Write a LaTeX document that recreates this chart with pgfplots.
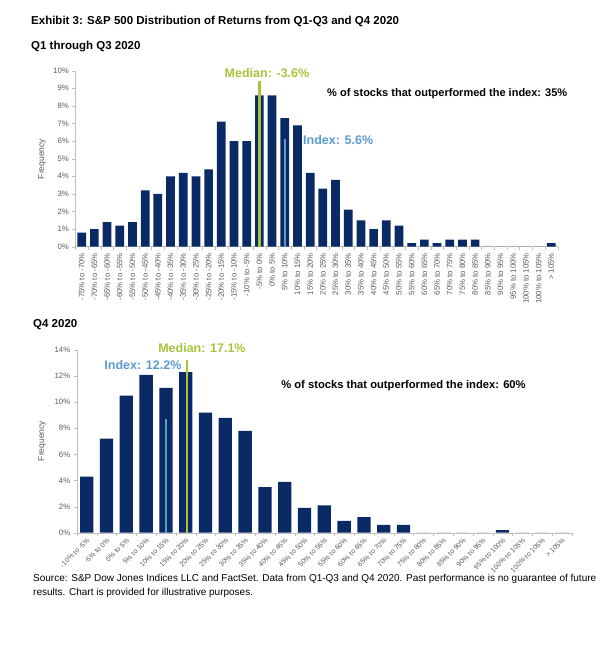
\documentclass[border=0pt]{standalone}
\usepackage{pgfplots}
\pgfplotsset{compat=1.18}
\usepackage{fontspec}
\setmainfont{Liberation Sans}

\definecolor{navy}{HTML}{0A2A66}
\definecolor{medgreen}{HTML}{A8C43C}
\definecolor{idxblue}{HTML}{5A9BD0}
\definecolor{ticktext}{HTML}{595959}

\pgfplotsset{
    histo/.style={
        scale only axis,
        anchor=south west,
        ybar, bar shift=0pt,
        axis x line*=bottom, axis y line*=left,
        axis line style={gray!50},
        ymin=0,
        xtick=data,
        major x tick style={draw=none},
        minor x tick style={gray!50},
        tick align=outside,
        minor tick length=3pt,
        major tick length=3pt,
        y tick style={gray!50},
        tick label style={font=\fontsize{7.8}{8}\selectfont, text=ticktext},
        yticklabel={\pgfmathprintnumber{\tick}\%},
        /pgf/number format/assume math mode=true,
        clip=false,
    },
}

\begin{document}
\begin{tikzpicture}
\path[use as bounding box] (0pt,0pt) rectangle (614pt,649pt);

% headings
\node[anchor=west, inner sep=0pt, font=\bfseries\fontsize{11.5}{13}\selectfont] at (31pt,628pt) {Exhibit 3: S\&P 500 Distribution of Returns from Q1-Q3 and Q4 2020};
\node[anchor=west, inner sep=0pt, font=\bfseries\fontsize{11.5}{13}\selectfont] at (31pt,602pt) {Q1 through Q3 2020};
\node[anchor=west, inner sep=0pt, font=\bfseries\fontsize{11.5}{13}\selectfont] at (33pt,324pt) {Q4 2020};
\node[anchor=west, inner sep=0pt, font=\fontsize{10}{12}\selectfont] at (33pt,70pt) {Source: S\&P Dow Jones Indices LLC and FactSet. Data from Q1-Q3 and Q4 2020. Past performance is no guarantee of future};
\node[anchor=west, inner sep=0pt, font=\fontsize{10}{12}\selectfont] at (33pt,56pt) {results. Chart is provided for illustrative purposes.};

\node[rotate=90, font=\fontsize{8.5}{9}\selectfont, text=ticktext] at (42pt,490pt) {Frequency};
\node[rotate=90, font=\fontsize{8.5}{9}\selectfont, text=ticktext] at (42pt,208pt) {Frequency};

% Q1 through Q3 2020
\begin{axis}[histo,
    at={(75.35pt,402.3pt)},
    width=482.3pt, height=176pt,
    xmin=-0.5, xmax=37.5, ymax=10,
    ytick={0,1,...,10},
    bar width=8.7pt,
    minor xtick={-0.5,0.5,...,37.5},
    xticklabels={-75\% to -70\%,-70\% to -65\%,-65\% to -60\%,-60\% to -55\%,-55\% to -50\%,-50\% to -45\%,-45\% to -40\%,-40\% to -35\%,-35\% to -30\%,-30\% to -25\%,-25\% to -20\%,-20\% to -15\%,-15\% to -10\%,-10\% to -5\%,-5\% to 0\%,0\% to 5\%,5\% to 10\%,10\% to 15\%,15\% to 20\%,20\% to 25\%,25\% to 30\%,30\% to 35\%,35\% to 40\%,40\% to 45\%,45\% to 50\%,50\% to 55\%,55\% to 60\%,60\% to 65\%,65\% to 70\%,70\% to 75\%,75\% to 80\%,80\% to 85\%,85\% to 90\%,90\% to 95\%,95\% to 100\%,100\% to 105\%,100\% to 105\%,> 105\%},
    x tick label style={rotate=90, anchor=east},
]
\addplot[fill=navy, draw=none] coordinates {
    (0,0.8) (1,1.0) (2,1.4) (3,1.2) (4,1.4) (5,3.2) (6,3.0) (7,4.0) (8,4.2) (9,4.0)
    (10,4.4) (11,7.1) (12,6.0) (13,6.0) (14,8.6) (15,8.6) (16,7.3) (17,6.9) (18,4.2) (19,3.3)
    (20,3.8) (21,2.1) (22,1.5) (23,1.0) (24,1.5) (25,1.2) (26,0.2) (27,0.4) (28,0.2) (29,0.4)
    (30,0.4) (31,0.4) (32,0) (33,0) (34,0) (35,0) (36,0) (37,0.2)
};
\addplot[sharp plot, medgreen, line width=2.7pt] coordinates {(14,0) (14,9.43)};
\addplot[sharp plot, idxblue, line width=2pt] coordinates {(16,0) (16,6.1)};
\node[font=\bfseries\fontsize{12.5}{13}\selectfont, text=medgreen] at (axis cs:14.6,9.85) {Median: -3.6\%};
\node[anchor=west, font=\bfseries\fontsize{12.5}{13}\selectfont, text=idxblue, inner sep=0pt] at (axis cs:17.44,6.06) {Index: 5.6\%};
\node[font=\bfseries\fontsize{11}{12}\selectfont] at (axis cs:28.8,8.7) {\% of stocks that outperformed the index: 35\%};
\end{axis}

% Q4 2020
\begin{axis}[histo,
    at={(76.8pt,116.3pt)},
    width=495pt, height=182.7pt,
    xmin=-0.5, xmax=24.5, ymax=14,
    ytick={0,2,...,14},
    bar width=13.3pt,
    minor xtick={-0.5,0.5,...,24.5},
    xticklabels={-10\% to -5\%,-5\% to 0\%,0\% to 5\%,5\% to 10\%,10\% to 15\%,15\% to 20\%,20\% to 25\%,25\% to 30\%,30\% to 35\%,35\% to 40\%,40\% to 45\%,45\% to 50\%,50\% to 55\%,55\% to 60\%,60\% to 65\%,65\% to 70\%,70\% to 75\%,75\% to 80\%,80\% to 85\%,85\% to 90\%,90\% to 95\%,95\% to 100\%,100\% to 105\%,100\% to 105\%,> 105\%},
    x tick label style={rotate=45, anchor=north east, inner sep=1pt, font=\fontsize{7}{8}\selectfont},
]
\addplot[fill=navy, draw=none] coordinates {
    (0,4.3) (1,7.2) (2,10.5) (3,12.1) (4,11.1) (5,12.3) (6,9.2) (7,8.8) (8,7.8) (9,3.5)
    (10,3.9) (11,1.9) (12,2.1) (13,0.9) (14,1.2) (15,0.6) (16,0.6) (17,0) (18,0) (19,0)
    (20,0) (21,0.2) (22,0) (23,0) (24,0)
};
\addplot[sharp plot, medgreen, line width=2.7pt] coordinates {(5.07,0) (5.07,13.23)};
\addplot[sharp plot, idxblue, line width=2pt] coordinates {(4,0) (4,8.7)};
\node[font=\bfseries\fontsize{12.5}{13}\selectfont, text=medgreen] at (axis cs:5.82,14.15) {Median: 17.1\%};
\node[font=\bfseries\fontsize{12.5}{13}\selectfont, text=idxblue] at (axis cs:2.84,12.85) {Index: 12.2\%};
\node[font=\bfseries\fontsize{11.2}{12}\selectfont] at (axis cs:16.0,11.3) {\% of stocks that outperformed the index: 60\%};
\end{axis}
\end{tikzpicture}
\end{document}
